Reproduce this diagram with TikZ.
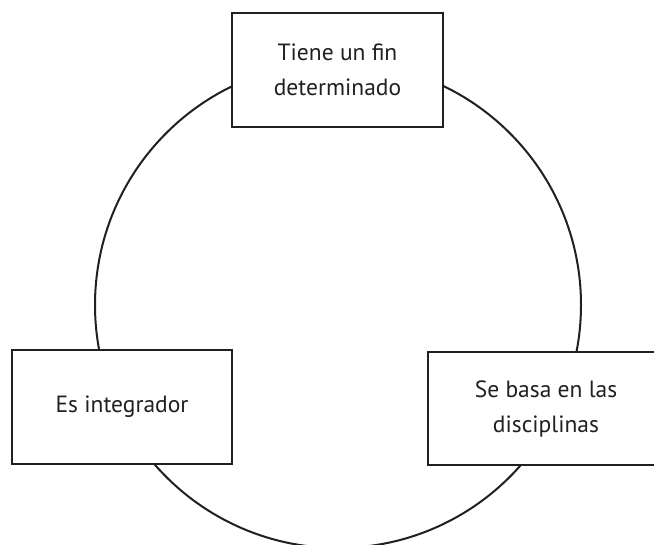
\documentclass[tikz,border=0pt]{standalone}
\usepackage{fontspec}
\setmainfont{PT Sans}
\definecolor{ink}{HTML}{231F20}
\begin{document}
\begin{tikzpicture}[x=1pt,y=-1pt,
  circ/.style={draw=ink,line width=2pt},
  box/.style={draw=ink,line width=2.6pt,fill=white,align=center,text=ink,
    font=\fontsize{23.5}{35}\selectfont,inner sep=0pt}]
\useasboundingbox (0,0) rectangle (654,545);
\clip (0,0) rectangle (654,545);
\node[circle,circ,minimum size=486pt,inner sep=0pt] (ring) at (338,305) {};
\node[box,minimum width=211pt,minimum height=114pt] (top) at (337.5,70) {Tiene un fin\\determinado};
\node[box,minimum width=220pt,minimum height=114pt] (left) at (122,407) {Es integrador};
\node[box,minimum width=236pt,minimum height=113pt] (right) at (546,408.5) {Se basa en las\\disciplinas};
\end{tikzpicture}
\end{document}
